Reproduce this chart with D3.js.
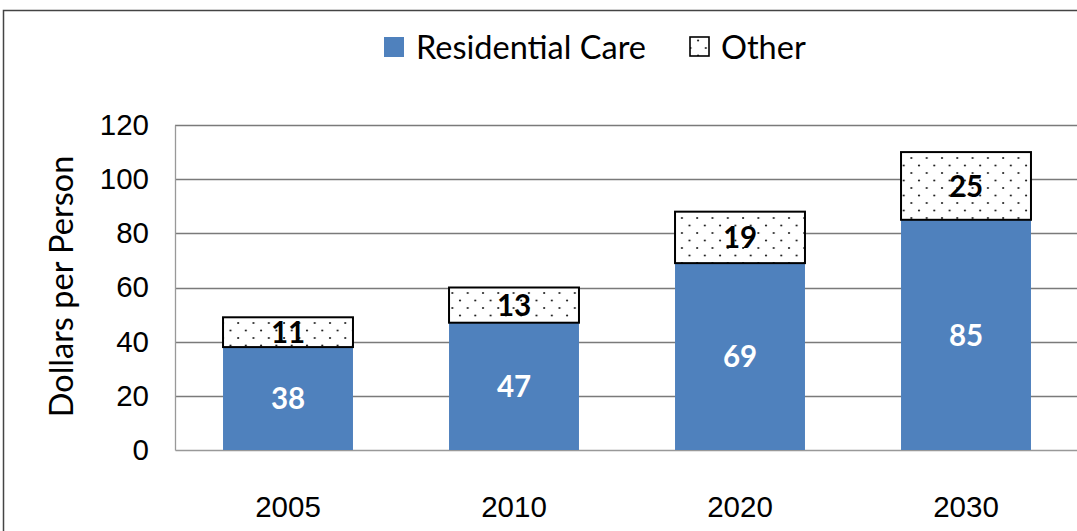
<!DOCTYPE html>
<html>
<head>
<meta charset="utf-8">
<script src="https://cdn.jsdelivr.net/npm/d3@7"></script>
<style>
  body { margin: 0; background: #fff; }
  svg { display: block; font-family: Lato, "Open Sans", sans-serif; }
</style>
</head>
<body>
<div id="chart-area"></div>
<script>
const years = ["2005", "2010", "2020", "2030"]
const residentialCare = [38, 47, 69, 85]
const other = [11, 13, 19, 25]
const yTicks = [0, 20, 40, 60, 80, 100, 120]
const seriesNames = ["Residential Care", "Other"]

const W = 1077, H = 531
const MARGIN = { LEFT: 175, RIGHT: -2, TOP: 125, BOTTOM: 81 }
const WIDTH = W - MARGIN.LEFT - MARGIN.RIGHT
const HEIGHT = H - MARGIN.TOP - MARGIN.BOTTOM

const svg = d3.select("#chart-area").append("svg")
  .attr("width", W)
  .attr("height", H)

// dotted fill for "Other"
const pat = svg.append("defs").append("pattern")
  .attr("id", "dots")
  .attr("patternUnits", "userSpaceOnUse")
  .attr("width", 15.3).attr("height", 15)
pat.append("rect").attr("width", 15.3).attr("height", 15).attr("fill", "#fff")
pat.append("circle").attr("cx", 2).attr("cy", 3).attr("r", 1.1).attr("fill", "#222")
pat.append("circle").attr("cx", 9.6).attr("cy", 10.5).attr("r", 1.1).attr("fill", "#222")

// outer frame
svg.append("rect")
  .attr("x", 3.5).attr("y", 10.5)
  .attr("width", W + 10).attr("height", H + 10)
  .attr("fill", "none")
  .attr("stroke", "#444")
  .attr("stroke-width", 1.5)

const g = svg.append("g")
  .attr("transform", `translate(${MARGIN.LEFT}, ${MARGIN.TOP})`)

const x = d3.scaleBand()
  .domain(years)
  .range([0, WIDTH])
  .paddingInner(0.425)
  .paddingOuter(0.2125)

const y = d3.scaleLinear()
  .domain([0, 120])
  .range([HEIGHT, 0])

// gridlines
g.append("g")
  .selectAll("line")
  .data(yTicks.filter(d => d > 0))
  .enter().append("line")
  .attr("x1", 0).attr("x2", WIDTH)
  .attr("y1", d => Math.round(y(d)) + 0.5)
  .attr("y2", d => Math.round(y(d)) + 0.5)
  .attr("stroke", "#7a7a7a")
  .attr("stroke-width", 1.3)

// y axis
const yAxisCall = d3.axisLeft(y).tickValues(yTicks).tickSize(0).tickPadding(26)
const yAxis = g.append("g").call(yAxisCall)
yAxis.select(".domain").attr("stroke", "#999").attr("stroke-width", 1.3)
yAxis.selectAll("text").attr("font-size", "29.5px").attr("fill", "#000")

// x axis
const xAxisCall = d3.axisBottom(x).tickSize(0).tickPadding(46)
const xAxis = g.append("g")
  .attr("transform", `translate(0, ${HEIGHT})`)
  .call(xAxisCall)
xAxis.select(".domain").attr("stroke", "#999").attr("stroke-width", 1.3)
xAxis.selectAll("text").attr("font-size", "29.5px").attr("fill", "#000")

// y label
g.append("text")
  .attr("x", -HEIGHT / 2 + 1)
  .attr("y", -102)
  .attr("font-size", "32.5px")
  .attr("text-anchor", "middle")
  .attr("transform", "rotate(-90)")
  .text("Dollars per Person")

// bars
const rows = years.map((yr, i) => ({ year: yr, rc: residentialCare[i], other: other[i] }))

g.selectAll("rect.rc")
  .data(rows)
  .enter().append("rect")
  .attr("class", "rc")
  .attr("x", d => x(d.year))
  .attr("y", d => y(d.rc))
  .attr("width", x.bandwidth())
  .attr("height", d => y(0) - y(d.rc))
  .attr("fill", "#4f81bd")

g.selectAll("rect.other")
  .data(rows)
  .enter().append("rect")
  .attr("class", "other")
  .attr("x", d => x(d.year))
  .attr("y", d => y(d.rc + d.other))
  .attr("width", x.bandwidth())
  .attr("height", d => y(d.rc) - y(d.rc + d.other))
  .attr("fill", "url(#dots)")
  .attr("stroke", "#000")
  .attr("stroke-width", 2)

// value labels
g.selectAll("text.rcl")
  .data(rows)
  .enter().append("text")
  .attr("x", d => x(d.year) + x.bandwidth() / 2)
  .attr("y", d => y(d.rc / 2))
  .attr("dy", "0.36em")
  .attr("text-anchor", "middle")
  .attr("font-size", "29.5px")
  .attr("font-weight", "bold")
  .attr("fill", "#fff")
  .text(d => d.rc)

g.selectAll("text.ol")
  .data(rows)
  .enter().append("text")
  .attr("x", d => x(d.year) + x.bandwidth() / 2)
  .attr("y", d => y(d.rc + d.other / 2))
  .attr("dy", "0.36em")
  .attr("text-anchor", "middle")
  .attr("font-size", "29.5px")
  .attr("font-weight", "bold")
  .attr("fill", "#000")
  .text(d => d.other)

// legend
const legend = svg.append("g")
legend.append("rect")
  .attr("x", 384).attr("y", 37).attr("width", 20).attr("height", 20)
  .attr("fill", "#4f81bd")
legend.append("text")
  .attr("x", 416).attr("y", 59)
  .attr("font-size", "32.5px")
  .text(seriesNames[0])
legend.append("rect")
  .attr("x", 690).attr("y", 37).attr("width", 19).attr("height", 19)
  .attr("fill", "url(#dots)")
  .attr("stroke", "#000").attr("stroke-width", 1.6)
legend.append("text")
  .attr("x", 721).attr("y", 59)
  .attr("font-size", "32.5px")
  .text(seriesNames[1])
</script>
</body>
</html>
